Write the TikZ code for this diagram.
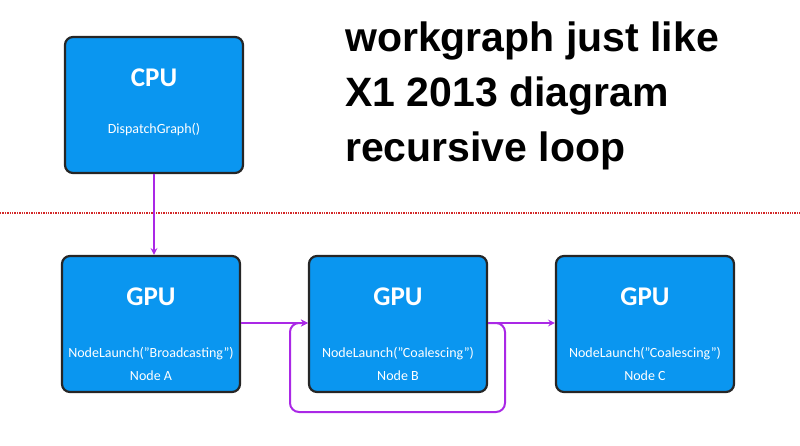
\documentclass[tikz,border=0pt]{standalone}
\usepackage{fontspec}
\setmainfont{Carlito}
\newfontfamily\titlefont{Liberation Sans}
\begin{document}
\begin{tikzpicture}[x=1pt,y=-1pt,
 box/.style={draw=black!85,line width=2.2pt,fill={rgb,255:red,10;green,150;blue,240},rounded corners=8pt,minimum width=178pt,minimum height=136pt,inner sep=0pt},
 con/.style={draw={rgb,255:red,170;green,40;blue,230},line width=2pt,->,>=stealth,rounded corners=9pt},
 big/.style={text=white,font=\bfseries\fontsize{27}{30}\selectfont},
 small/.style={text=white,font=\fontsize{14}{16}\selectfont}]
\useasboundingbox (0,0) rectangle (800,445);
\node[box] (cpu) at (154,105) {};
\node[big] (cput) at (154,78) {CPU};
\node[small] (cpus) at (154,130) {DispatchGraph()};
\foreach \n/\x/\s/\l in {a/151/Broadcasting/A,b/398/Coalescing/B,c/645/Coalescing/C}{
 \node[box] (\n) at (\x,324) {};
 \node[big] (\n t) at (\x,297) {GPU};
 \node[small] (\n s) at (\x,354) {NodeLaunch("\s")};
 \node[small] (\n l) at (\x,376) {Node \l};
}
\draw[densely dotted,draw={rgb,255:red,210;green,40;blue,40},line width=1.4pt] (0,213) -- (800,213);
\node[font=\titlefont\bfseries\fontsize{41}{55}\selectfont,align=left,anchor=north west,inner sep=0pt] (title) at (345,22) {workgraph just like\\X1 2013 diagram\\recursive loop};
\draw[con] (cpu.south) -- (cpu.south |- a.north);
\draw[con] (a.east |- 0,323) -- (b.west |- 0,323);
\draw[con] (b.east |- 0,323) -- (c.west |- 0,323);
\coordinate (r1) at (505,323); \coordinate (r2) at (505,412);
\coordinate (l1) at (290,412); \coordinate (l2) at (290,323);
\draw[con] (b.east |- 0,323) -- (r1) -- (r2) -- (l1) -- (l2) -- (b.west |- 0,323);
\end{tikzpicture}
\end{document}
